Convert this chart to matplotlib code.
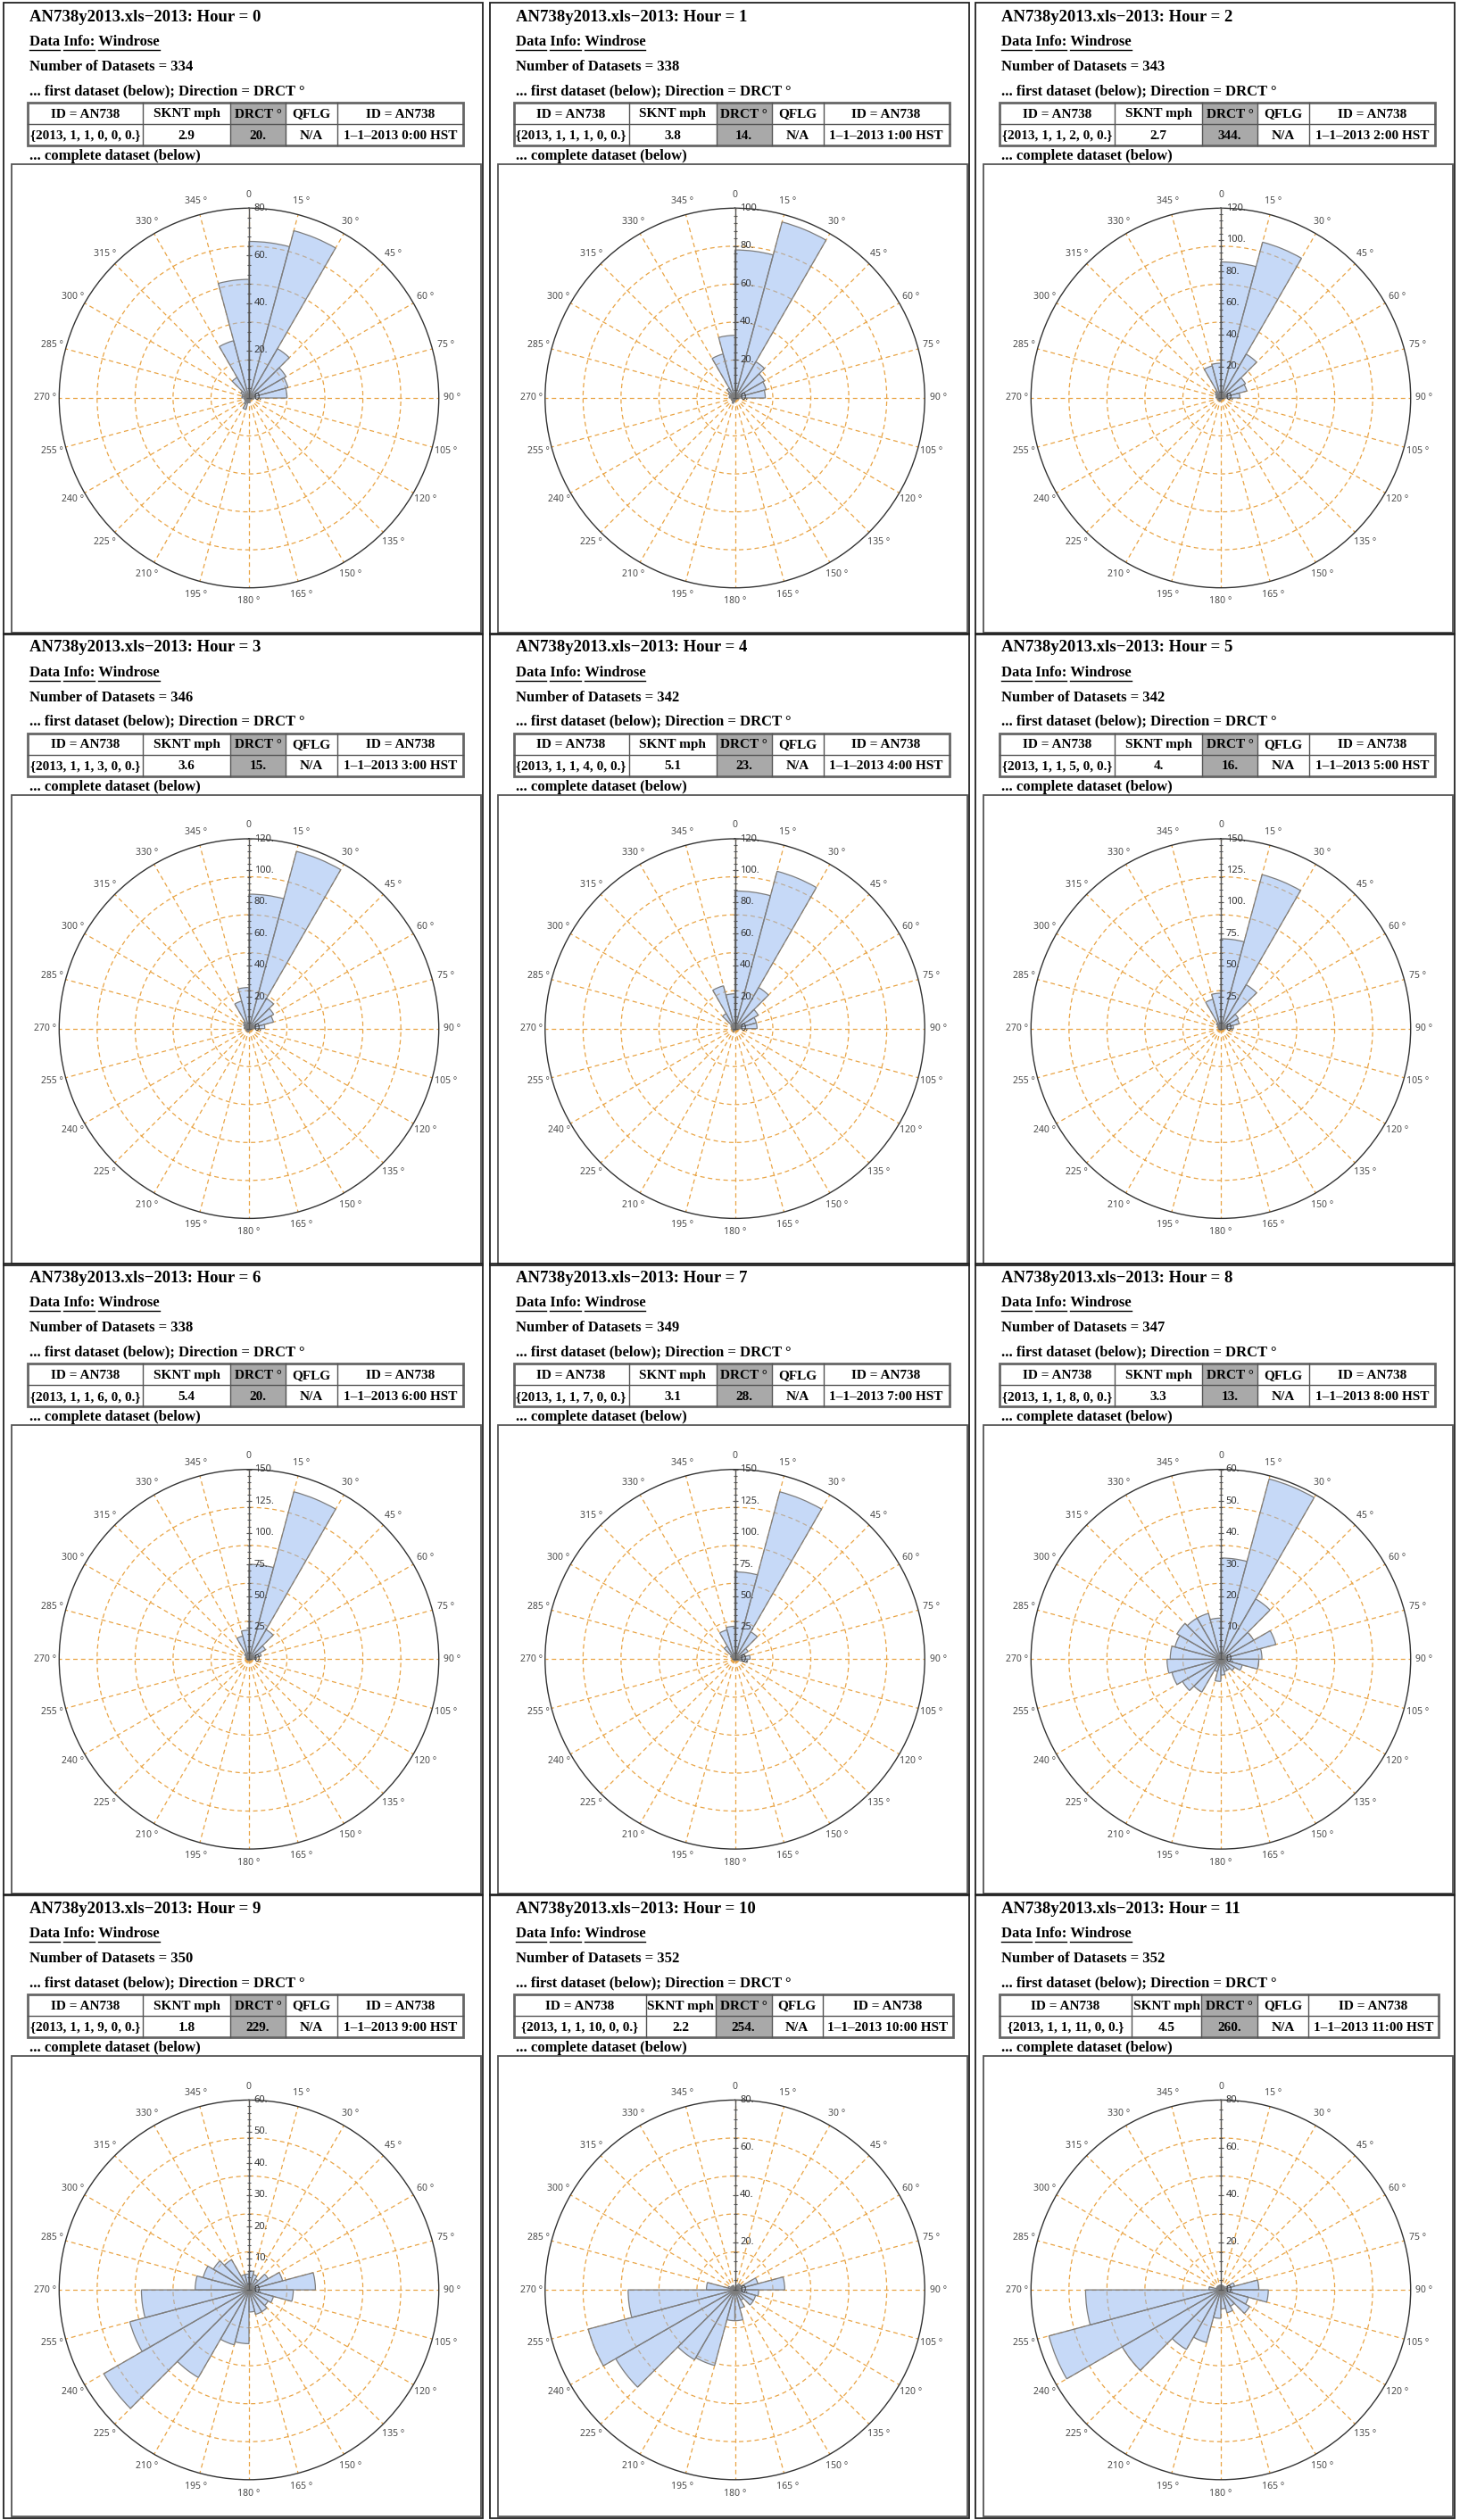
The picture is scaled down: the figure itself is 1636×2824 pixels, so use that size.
import numpy as np
import matplotlib
matplotlib.use("Agg")
import matplotlib.pyplot as plt
from matplotlib.patches import Rectangle

W, H, DPI = 1636, 2824, 100

# ---------------- data ----------------
hours = [0, 1, 2, 3, 4, 5, 6, 7, 8, 9, 10, 11]
n_datasets = [334, 338, 343, 346, 342, 342, 338, 349, 347, 350, 352, 352]
first_sknt = ["2.9", "3.8", "2.7", "3.6", "5.1", "4.", "5.4", "3.1", "3.3", "1.8", "2.2", "4.5"]
first_drct = ["20.", "14.", "344.", "15.", "23.", "16.", "20.", "28.", "13.", "229.", "254.", "260."]
r_max = [80, 100, 120, 120, 120, 150, 150, 150, 60, 60, 80, 80]
r_step = [20, 20, 20, 20, 20, 25, 25, 25, 10, 10, 20, 20]
dir_bins = list(range(0, 360, 15))   # bin start direction (deg)

counts_h0 = [66, 73, 24, 18, 17, 16, 2, 1, 1, 1, 1, 2, 2, 5, 3, 2, 2, 2, 3, 3, 4, 10, 25, 50]
counts_h1 = [78, 96, 22, 18, 17, 16, 2, 1, 1, 1, 1, 1, 2, 3, 2, 2, 2, 2, 3, 3, 4, 6, 24, 33]
counts_h2 = [86, 102, 32, 18, 17, 12, 2, 1, 1, 1, 1, 1, 2, 2, 2, 2, 2, 2, 3, 3, 4, 5, 21, 22]
counts_h3 = [85, 116, 22, 18, 16, 10, 2, 1, 1, 1, 1, 1, 2, 2, 2, 2, 2, 2, 3, 3, 4, 5, 18, 26]
counts_h4 = [87, 103, 30, 17, 14, 14, 2, 1, 1, 1, 1, 1, 1, 2, 2, 1, 1, 2, 2, 2, 3, 11, 28, 22]
counts_h5 = [71, 126, 40, 16, 15, 10, 2, 1, 1, 1, 1, 1, 1, 1, 1, 1, 1, 1, 2, 2, 3, 5, 24, 28]
counts_h6 = [75, 137, 27, 15, 10, 6, 2, 1, 1, 1, 1, 1, 1, 1, 1, 1, 1, 1, 2, 2, 3, 5, 19, 23]
counts_h7 = [69, 137, 25, 12, 8, 12, 10, 2, 1, 1, 1, 1, 1, 1, 1, 1, 1, 1, 2, 2, 4, 12, 24, 26]
counts_h8 = [32, 59, 22, 12, 18, 13, 12, 7, 5, 4, 4, 5, 7, 4, 12, 14, 16, 17, 16, 15, 16, 15, 15, 13]
counts_h9 = [6, 5, 4, 7, 11, 21, 14, 8, 7, 8, 8, 7, 17, 18, 32, 53, 39, 34, 17, 15, 13, 11, 5, 5]
counts_h10 = [1, 2, 3, 3, 10, 21, 10, 9, 9, 5, 8, 13, 13, 33, 34, 58, 64, 45, 12, 3, 2, 2, 2, 1]
counts_h11 = [2, 2, 2, 2, 6, 16, 20, 12, 14, 8, 10, 8, 12, 23, 29, 48, 75, 57, 5, 2, 2, 2, 2, 2]
counts = [counts_h0, counts_h1, counts_h2, counts_h3, counts_h4, counts_h5,
          counts_h6, counts_h7, counts_h8, counts_h9, counts_h10, counts_h11]

table_header = ["ID = AN738", "SKNT mph", "DRCT \u00b0", "QFLG", "ID = AN738"]

# ---------------- styling ----------------
SERIF = ["Liberation Serif", "DejaVu Serif"]
SANS = ["Noto Sans", "DejaVu Sans"]
GRID_C = "#e9a445"
BAR_FC = (0.56, 0.71, 0.94, 0.5)
BAR_EC = "#7d7d7d"
HS = 12      # header font size
TS = 11      # table font size

fig = plt.figure(figsize=(W / DPI, H / DPI), dpi=DPI)
fig.patch.set_facecolor("white")
bg = fig.add_axes([0, 0, 1, 1])
bg.set_xlim(0, W)
bg.set_ylim(H, 0)
bg.axis("off")
renderer = fig.canvas.get_renderer()


def text_w(s, size):
    t = bg.text(0, 0, s, fontsize=size, fontweight="bold", family=SERIF)
    w = t.get_window_extent(renderer).width
    t.remove()
    return w


COL_X = [0, 544.5, 1089]
ROW_Y = [0, 706.7, 1413.4, 2120.1]
CXO, CYO, RPX = 279, 446, 212.7

for k, h in enumerate(hours):
    ox = COL_X[k % 3]
    oy = ROW_Y[k // 3]

    # panel frame and rose frame
    pb = min(oy + 711, H - 2)
    bg.add_patch(Rectangle((ox + 4, oy + 3), 537, pb - (oy + 3), fill=False,
                           edgecolor="#222222", lw=1.3))
    rb = min(oy + 709, H - 4)
    bg.add_patch(Rectangle((ox + 13, oy + 184), 526, rb - (oy + 184), fill=False,
                           edgecolor="#555555", lw=1.3))

    tx = ox + 33
    bg.text(tx, oy + 19, f"AN738y2013.xls\u22122013: Hour = {h}", fontsize=13.5,
            fontweight="bold", family=SERIF, va="center", ha="left")
    s_info = "Data Info: Windrose"
    bg.text(tx, oy + 47, s_info, fontsize=HS, fontweight="bold", family=SERIF,
            va="center", ha="left")
    w_full = text_w(s_info, HS)
    w_data = text_w("Data", HS)
    w_di = text_w("Data Info:", HS)
    w_info = text_w("Info:", HS)
    w_wind = text_w("Windrose", HS)
    uy = oy + 56
    for a, b in [(0, w_data), (w_di - w_info, w_di), (w_full - w_wind, w_full)]:
        bg.plot([tx + a, tx + b], [uy, uy], color="black", lw=1.0)
    bg.text(tx, oy + 75, f"Number of Datasets = {n_datasets[k]}", fontsize=HS,
            fontweight="bold", family=SERIF, va="center", ha="left")
    bg.text(tx, oy + 102, "... first dataset (below); Direction = DRCT \u00b0", fontsize=HS,
            fontweight="bold", family=SERIF, va="center", ha="left")
    bg.text(tx, oy + 175, "... complete dataset (below)", fontsize=HS,
            fontweight="bold", family=SERIF, va="center", ha="left")

    # table
    x0 = ox + 31
    if h >= 10:
        xs = [x0, ox + 179, ox + 257, ox + 320, ox + 377, ox + 523]
    else:
        xs = [x0, ox + 160, ox + 258, ox + 320, ox + 378, ox + 519]
    yt, ym, yb = oy + 115, oy + 139, oy + 163
    bg.add_patch(Rectangle((xs[2], yt), xs[3] - xs[2], yb - yt, facecolor="#a9a9a9",
                           edgecolor="none"))
    for xx in xs[1:-1]:
        bg.plot([xx, xx], [yt, yb], color="#555555", lw=1.0)
    bg.plot([xs[0], xs[-1]], [ym, ym], color="#555555", lw=1.0)
    bg.add_patch(Rectangle((xs[0], yt), xs[-1] - xs[0], yb - yt, fill=False,
                           edgecolor="#666666", lw=2.0))
    row2 = ["{2013, 1, 1, %d, 0, 0.}" % h, first_sknt[k], first_drct[k], "N/A",
            "1\u20131\u20132013 %d:00 HST" % h]
    for c in range(5):
        xc = 0.5 * (xs[c] + xs[c + 1])
        bg.text(xc, (yt + ym) / 2 + 1, table_header[c], fontsize=TS, fontweight="bold",
                family=SERIF, ha="center", va="center")
        bg.text(xc, (ym + yb) / 2 + 1, row2[c], fontsize=TS, fontweight="bold",
                family=SERIF, ha="center", va="center")

    # polar wind rose
    cx, cy = ox + CXO, oy + CYO
    ax = fig.add_axes([(cx - RPX) / W, 1 - (cy + RPX) / H, 2 * RPX / W, 2 * RPX / H],
                      projection="polar")
    ax.set_theta_zero_location("N")
    ax.set_theta_direction(-1)
    rm = r_max[k]
    ax.bar(np.deg2rad(dir_bins), counts[k], width=np.deg2rad(15), align="edge",
           facecolor=BAR_FC, edgecolor=BAR_EC, linewidth=0.9, zorder=3)
    ax.set_ylim(0, rm)
    ax.set_yticks([rm * f for f in (0.2, 0.4, 0.6, 0.8)])
    ax.set_yticklabels([])
    ax.set_xticks(np.deg2rad(list(range(0, 360, 15))))
    ax.set_xticklabels(["0" if d == 0 else f"{d} \u00b0" for d in range(0, 360, 15)])
    ax.set_xticks(np.deg2rad([d for d in range(0, 360, 5) if d % 15]), minor=True)
    ax.tick_params(axis="x", which="major", labelsize=7.5, labelcolor="#4a4a4a", pad=0,
                   length=4, width=0.8, color="#333333", direction="out")
    ax.tick_params(axis="x", which="minor", length=2.5, width=0.7, color="#333333",
                   direction="out")
    for lab in ax.get_xticklabels():
        lab.set_family(SANS)
    ax.grid(True, which="major", color=GRID_C, linestyle=(0, (4, 3)), linewidth=0.9)
    ax.spines["polar"].set_color("#333333")
    ax.spines["polar"].set_linewidth(1.0)

    # radial axis along 0 deg
    ax.plot([0, 0], [0, rm], color="#555555", lw=1.0, zorder=4)
    majors = np.arange(0, rm + 0.01, r_step[k])
    minors = np.arange(0, rm + 0.01, r_step[k] / 5)
    ax.plot(np.zeros(len(minors)), minors, linestyle="none", marker="_", markersize=3,
            color="#555555", mew=0.8, zorder=4, clip_on=False)
    ax.plot(np.zeros(len(majors)), majors, linestyle="none", marker="_", markersize=5,
            color="#555555", mew=0.8, zorder=4, clip_on=False)
    for r in majors:
        ax.annotate(f"{int(r)}.", xy=(0, r), xytext=(4, 0), textcoords="offset points",
                    ha="left", va="center", fontsize=8, color="#333333", family=SANS,
                    zorder=5, annotation_clip=False)

fig.savefig("out.png", dpi=DPI, facecolor="white")
